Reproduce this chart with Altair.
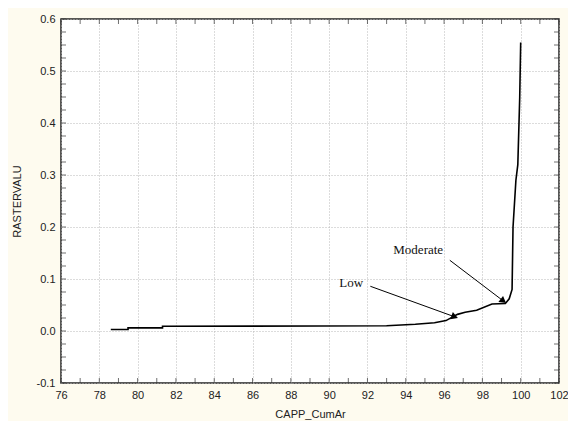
import altair as alt
import pandas as pd
import math

# curve data
cum_area = [78.6, 79.5, 79.5, 81.3, 81.3, 93.0, 94.5, 95.5, 96.1, 96.7, 97.1, 97.7,
            98.5, 99.2, 99.4, 99.55, 99.6, 99.75, 99.85, 99.95, 100.0]
raster = [0.003, 0.003, 0.006, 0.006, 0.009, 0.010, 0.013, 0.016, 0.020, 0.032, 0.036, 0.040,
          0.052, 0.053, 0.062, 0.080, 0.200, 0.290, 0.320, 0.450, 0.555]

# annotations
ann_text = ["Low", "Moderate"]
ann_x = [91.15, 94.65]
ann_y = [0.092, 0.155]
arrow_x0 = [92.15, 96.3]
arrow_y0 = [0.086, 0.136]
arrow_x1 = [96.5, 99.05]
arrow_y1 = [0.028, 0.059]

x_ticks = [76, 78, 80, 82, 84, 86, 88, 90, 92, 94, 96, 98, 100, 102]
y_ticks = [-0.1, 0.0, 0.1, 0.2, 0.3, 0.4, 0.5, 0.6]
x_minor = list(range(76, 103, 1))
y_minor = [round(-0.1 + 0.025 * i, 3) for i in range(29)]

W, H = 498, 364
XD = [76, 102]
YD = [-0.1, 0.6]
TK = 5  # inner tick length

def arrow_angle(x0, y0, x1, y1):
    dx = (x1 - x0) * W / (XD[1] - XD[0])
    dy = -(y1 - y0) * H / (YD[1] - YD[0])
    ang = math.degrees(math.atan2(dx, -dy))
    return ang % 360

curve = pd.DataFrame({"x": cum_area, "y": raster})
ann = pd.DataFrame({"t": ann_text, "x": ann_x, "y": ann_y})
arr = pd.DataFrame({"x0": arrow_x0, "y0": arrow_y0, "x1": arrow_x1, "y1": arrow_y1})
arr["ang"] = [arrow_angle(a, b, c, d) for a, b, c, d in zip(arrow_x0, arrow_y0, arrow_x1, arrow_y1)]
xm = pd.DataFrame({"tx": x_minor})
ym = pd.DataFrame({"ty": y_minor})

xs = alt.Scale(domain=XD, nice=False, zero=False)
ys = alt.Scale(domain=YD, nice=False, zero=False)

common_axis = dict(grid=True, gridDash=[1, 2], gridColor="#b8b8b8", ticks=False,
                   labelPadding=6, domain=False, labelOverlap=False, labelFlush=False,
                   labelFont="Liberation Sans", labelFontSize=11, labelColor="#222222",
                   titleFont="Liberation Sans", titleFontSize=11, titleFontWeight="normal",
                   titleColor="#222222")
xaxis = alt.Axis(values=x_ticks, title="CAPP_CumAr", titlePadding=8,
                 format="d", **common_axis)
yaxis = alt.Axis(values=y_ticks, title="RASTERVALU", titlePadding=14,
                 labelExpr="replace(format(datum.value, '.1f'), '\u2212', '-')", **common_axis)

def X(f):
    return alt.X(f, scale=xs, axis=xaxis)

def Y(f):
    return alt.Y(f, scale=ys, axis=yaxis)

line = alt.Chart(curve).mark_line(color="black", strokeWidth=1.6, clip=True).encode(
    x=X("x:Q"), y=Y("y:Q"),
)

arrow_lines = alt.Chart(arr).mark_rule(color="black", strokeWidth=1).encode(
    x=X("x0:Q"), y=Y("y0:Q"), x2="x1:Q", y2="y1:Q"
)
arrow_heads = alt.Chart(arr).mark_point(shape="triangle", filled=True, color="black",
                                        opacity=1, size=60).encode(
    x=X("x1:Q"), y=Y("y1:Q"), angle=alt.Angle("ang:Q", scale=None)
)
labels = alt.Chart(ann).mark_text(font="Liberation Serif", fontSize=13, color="#111111").encode(
    x=X("x:Q"), y=Y("y:Q"), text="t:N"
)

# inner ticks along the frame
tick_style = dict(color="#333333", thickness=1, size=TK)
xt_bottom = alt.Chart(xm).mark_tick(orient="vertical", **tick_style).encode(
    x=X("tx:Q"), y=alt.value(H - TK / 2))
xt_top = alt.Chart(xm).mark_tick(orient="vertical", **tick_style).encode(
    x=X("tx:Q"), y=alt.value(TK / 2))
yt_left = alt.Chart(ym).mark_tick(orient="horizontal", **tick_style).encode(
    y=Y("ty:Q"), x=alt.value(TK / 2))
yt_right = alt.Chart(ym).mark_tick(orient="horizontal", **tick_style).encode(
    y=Y("ty:Q"), x=alt.value(W - TK / 2))

chart = alt.layer(line, xt_bottom, xt_top, yt_left, yt_right, arrow_lines, arrow_heads, labels).properties(
    width=W, height=H,
    background="#FEFBEF",
    padding={"left": 53, "top": 11, "right": 9, "bottom": 38},
    autosize=alt.AutoSizeParams(type="none"),
).configure_view(
    fill="white", stroke="#222222", strokeWidth=1.5
)

chart.save("out.html", embed_options={"renderer": "svg", "actions": False})
